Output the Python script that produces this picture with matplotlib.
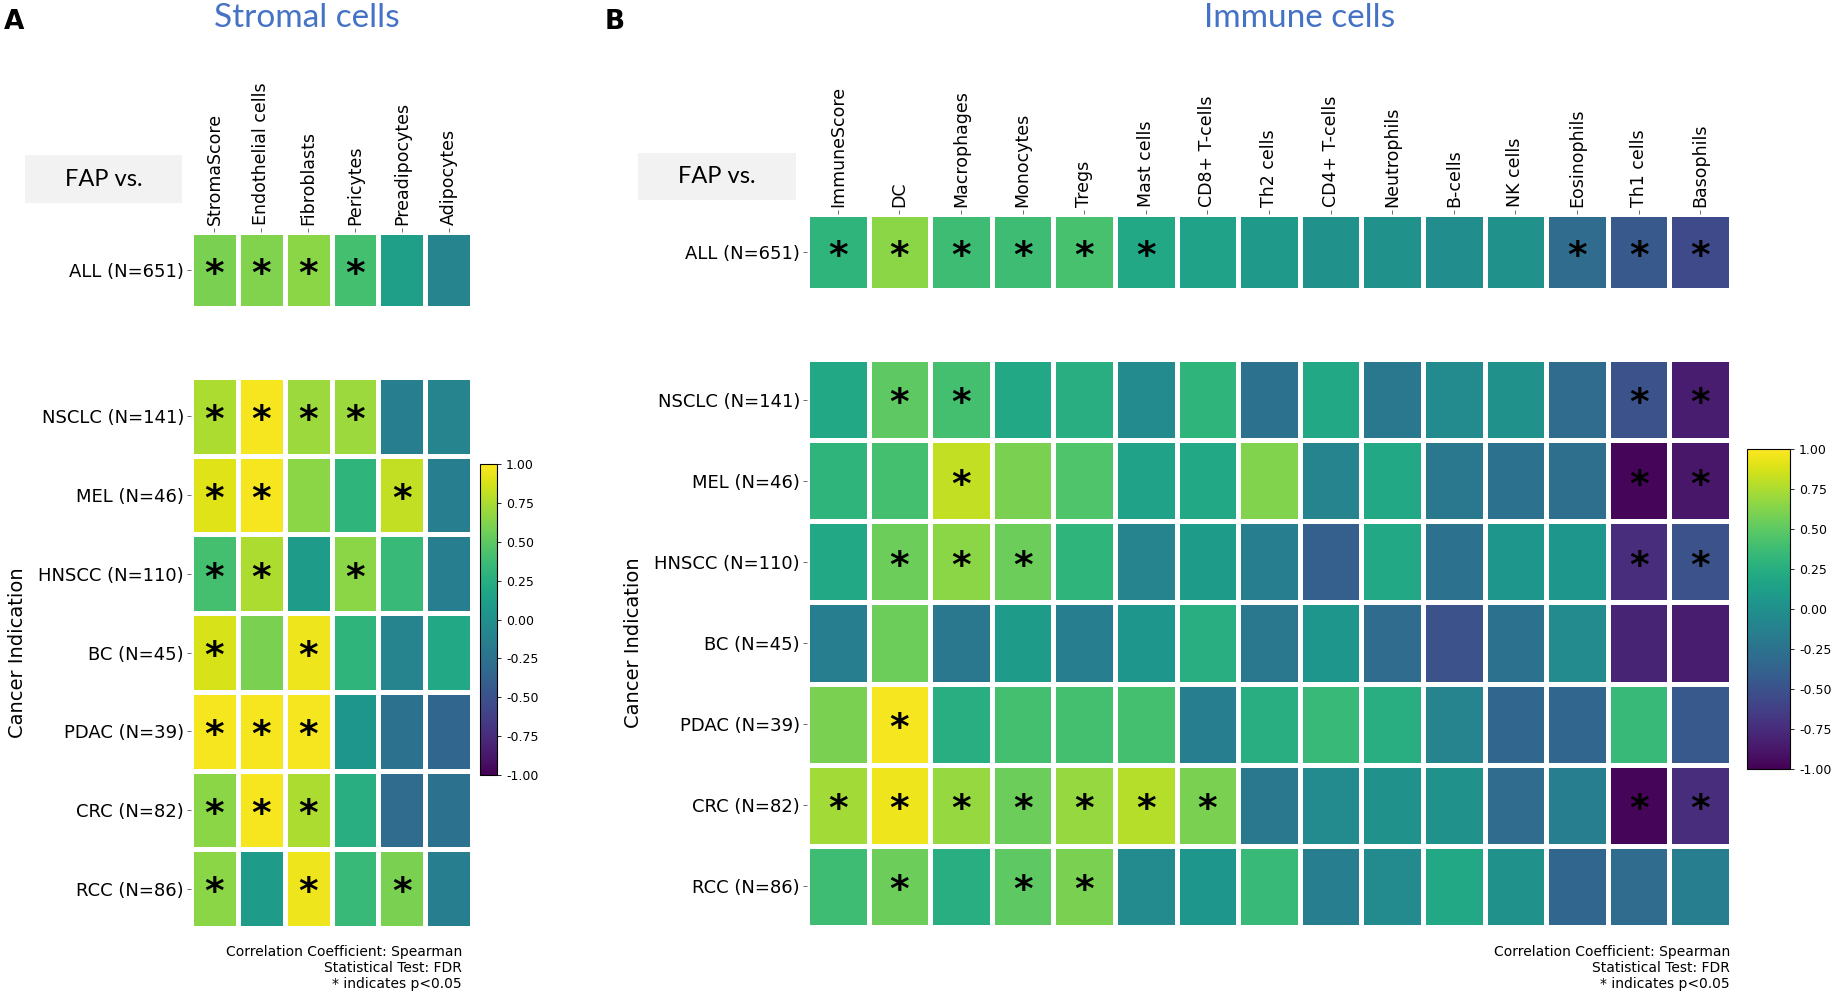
import numpy as np
import matplotlib
matplotlib.use("Agg")
import matplotlib.pyplot as plt
from matplotlib.patches import Rectangle

# ---- data ----
rows_all = ["ALL (N=651)"]
rows_cancer = ["NSCLC (N=141)", "MEL (N=46)", "HNSCC (N=110)", "BC (N=45)",
               "PDAC (N=39)", "CRC (N=82)", "RCC (N=86)"]

stromal_cols = ["StromaScore", "Endothelial cells", "Fibroblasts", "Pericytes",
                "Preadipocytes", "Adipocytes"]
stromal_all = [[0.60, 0.62, 0.65, 0.40, 0.12, -0.10]]
stromal_all_sig = [[1, 1, 1, 1, 0, 0]]
stromal_cancer = [
    [0.75, 0.97, 0.70, 0.70, -0.15, -0.10],
    [0.90, 0.97, 0.65, 0.30, 0.82, -0.15],
    [0.40, 0.75, 0.10, 0.65, 0.35, -0.15],
    [0.88, 0.60, 0.95, 0.30, -0.10, 0.20],
    [0.97, 0.97, 0.97, 0.05, -0.25, -0.35],
    [0.65, 0.97, 0.75, 0.25, -0.30, -0.25],
    [0.65, 0.10, 0.95, 0.35, 0.60, -0.15],
]
stromal_cancer_sig = [
    [1, 1, 1, 1, 0, 0],
    [1, 1, 0, 0, 1, 0],
    [1, 1, 0, 1, 0, 0],
    [1, 0, 1, 0, 0, 0],
    [1, 1, 1, 0, 0, 0],
    [1, 1, 1, 0, 0, 0],
    [1, 0, 1, 0, 1, 0],
]

immune_cols = ["ImmuneScore", "DC", "Macrophages", "Monocytes", "Tregs", "Mast cells",
               "CD8+ T-cells", "Th2 cells", "CD4+ T-cells", "Neutrophils", "B-cells",
               "NK cells", "Eosinophils", "Th1 cells", "Basophils"]
immune_all = [[0.30, 0.65, 0.38, 0.38, 0.42, 0.20, 0.15, 0.08, 0.00, 0.00, -0.03,
               0.00, -0.30, -0.45, -0.55]]
immune_all_sig = [[1, 1, 1, 1, 1, 1, 0, 0, 0, 0, 0, 0, 1, 1, 1]]
immune_cancer = [
    [0.20, 0.50, 0.40, 0.20, 0.25, -0.05, 0.30, -0.25, 0.20, -0.20, -0.05, 0.00, -0.30, -0.50, -0.85],
    [0.30, 0.40, 0.82, 0.60, 0.45, 0.15, 0.20, 0.62, -0.10, 0.20, -0.20, -0.25, -0.28, -0.97, -0.88],
    [0.20, 0.55, 0.65, 0.55, 0.30, -0.10, 0.10, -0.15, -0.40, 0.20, -0.25, 0.05, 0.05, -0.75, -0.50],
    [-0.15, 0.55, -0.20, 0.10, -0.15, 0.05, 0.25, -0.20, 0.05, -0.30, -0.50, -0.25, -0.05, -0.80, -0.85],
    [0.60, 0.97, 0.25, 0.40, 0.40, 0.40, -0.15, 0.25, 0.35, 0.25, -0.10, -0.35, -0.35, 0.35, -0.45],
    [0.72, 0.95, 0.68, 0.55, 0.68, 0.78, 0.60, -0.20, -0.05, 0.00, 0.00, -0.30, -0.15, -0.97, -0.75],
    [0.38, 0.55, 0.25, 0.50, 0.60, -0.05, 0.05, 0.35, -0.15, -0.05, 0.20, 0.00, -0.35, -0.30, -0.15],
]
immune_cancer_sig = [
    [0, 1, 1, 0, 0, 0, 0, 0, 0, 0, 0, 0, 0, 1, 1],
    [0, 0, 1, 0, 0, 0, 0, 0, 0, 0, 0, 0, 0, 1, 1],
    [0, 1, 1, 1, 0, 0, 0, 0, 0, 0, 0, 0, 0, 1, 1],
    [0, 0, 0, 0, 0, 0, 0, 0, 0, 0, 0, 0, 0, 0, 0],
    [0, 1, 0, 0, 0, 0, 0, 0, 0, 0, 0, 0, 0, 0, 0],
    [1, 1, 1, 1, 1, 1, 1, 0, 0, 0, 0, 0, 0, 1, 1],
    [0, 1, 0, 1, 1, 0, 0, 0, 0, 0, 0, 0, 0, 0, 0],
]

cbar_ticks = [-1.0, -0.75, -0.5, -0.25, 0.0, 0.25, 0.5, 0.75, 1.0]
footnote = "Correlation Coefficient: Spearman\nStatistical Test: FDR\n* indicates p<0.05"

W, H = 1834, 996
fig = plt.figure(figsize=(W / 100, H / 100), dpi=100)


def box(x0, y0, x1, y1):
    # pixel box (top-left origin) -> figure fraction rect
    return [x0 / W, 1 - y1 / H, (x1 - x0) / W, (y1 - y0) / H]


def heat(ax, vals, sig, ylabels, xlabels=None):
    vals = np.array(vals)
    m = ax.pcolormesh(vals, cmap="viridis", vmin=-1, vmax=1,
                      edgecolors="white", linewidth=2.5)
    ax.set_xlim(0, vals.shape[1])
    ax.set_ylim(vals.shape[0], 0)
    for i in range(vals.shape[0]):
        for j in range(vals.shape[1]):
            if sig[i][j]:
                ax.text(j + 0.5, i + 0.56, "*", ha="center", va="center",
                        fontsize=27, weight="bold", color="black")
    ax.set_yticks(np.arange(vals.shape[0]) + 0.5)
    ax.set_yticklabels(ylabels, fontsize=13)
    if xlabels is not None:
        ax.set_xticks(np.arange(vals.shape[1]) + 0.5)
        ax.set_xticklabels(xlabels, rotation=90, fontsize=12.5)
        ax.xaxis.tick_top()
    else:
        ax.set_xticks([])
    ax.tick_params(length=3, width=0.6, color="#555555", pad=2)
    for s in ax.spines.values():
        s.set_visible(False)
    return m


def colorbar(mesh, rect):
    cax = fig.add_axes(rect)
    cb = fig.colorbar(mesh, cax=cax, ticks=cbar_ticks, format="%.2f")
    cb.ax.tick_params(labelsize=9, length=3, width=0.6)
    cb.outline.set_linewidth(0.8)


# ---- panel A: stromal cells ----
axA1 = fig.add_axes(box(191, 232, 472, 308))
heat(axA1, stromal_all, stromal_all_sig, rows_all, stromal_cols)
axA2 = fig.add_axes(box(191, 377, 472, 928))
mA = heat(axA2, stromal_cancer, stromal_cancer_sig, rows_cancer)
axA2.set_ylabel("Cancer Indication", fontsize=14, labelpad=8)
colorbar(mA, box(480, 464, 497, 775))

# ---- panel B: immune cells ----
axB1 = fig.add_axes(box(807, 214, 1731, 290))
heat(axB1, immune_all, immune_all_sig, rows_all, immune_cols)
axB2 = fig.add_axes(box(807, 359, 1731, 927))
mB = heat(axB2, immune_cancer, immune_cancer_sig, rows_cancer)
axB2.set_ylabel("Cancer Indication", fontsize=14, labelpad=8)
colorbar(mB, box(1747, 449, 1790, 769))

# ---- annotations ----
blue = "#4472C4"
fig.text(307 / W, 1 - 18 / H, "Stromal cells", color=blue, fontsize=24,
         family="Lato", ha="center", va="center")
fig.text(1300 / W, 1 - 18 / H, "Immune cells", color=blue, fontsize=24,
         family="Lato", ha="center", va="center")
fig.text(4 / W, 1 - 22 / H, "A", fontsize=19, weight="bold", va="center")
fig.text(605 / W, 1 - 22 / H, "B", fontsize=19, weight="bold", va="center")

for x0, y0, x1, y1 in [(25, 155, 182, 203), (638, 153, 796, 200)]:
    fig.patches.append(Rectangle((x0 / W, 1 - y1 / H), (x1 - x0) / W, (y1 - y0) / H,
                                 transform=fig.transFigure, facecolor="#F2F2F2",
                                 edgecolor="none"))
    fig.text((x0 + x1) / 2 / W, 1 - (y0 + y1) / 2 / H, "FAP vs.", fontsize=17,
             family="Lato", ha="center", va="center")

fig.text(462 / W, 1 - 968 / H, footnote, fontsize=10, ha="right", va="center",
         linespacing=1.15)
fig.text(1730 / W, 1 - 968 / H, footnote, fontsize=10, ha="right", va="center",
         linespacing=1.15)

fig.savefig("out.png", dpi=100)
